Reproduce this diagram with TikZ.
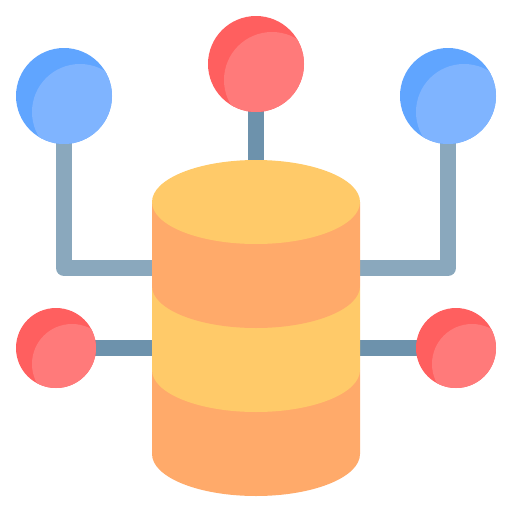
\documentclass[tikz,border=0pt]{standalone}
\usetikzlibrary{backgrounds,shapes.geometric}
\definecolor{redbase}{HTML}{FF5F5F}
\definecolor{redlight}{HTML}{FF7A7A}
\definecolor{bluebase}{HTML}{60A5FF}
\definecolor{bluelight}{HTML}{7FB4FF}
\definecolor{linelight}{HTML}{8AA8BD}
\definecolor{linedark}{HTML}{6D92AC}
\definecolor{dborange}{HTML}{FFAA6A}
\definecolor{dbyellow}{HTML}{FFCA69}
\tikzset{
  x=1pt,y=-1pt,
  ball/.style n args={3}{circle,inner sep=0pt,outer sep=0pt,minimum size=#1*2pt,fill=#2,
    path picture={\fill[#3] ([shift={(16pt,-16pt)}]path picture bounding box.center) circle[radius=#1*1pt];}},
  bigred/.style={ball={48}{redbase}{redlight}},
  bigblue/.style={ball={48}{bluebase}{bluelight}},
  smallred/.style={ball={40}{redbase}{redlight}},
  wire/.style={line width=16pt,line join=round},
  wirelight/.style={wire,draw=linelight},
  wiredark/.style={wire,draw=linedark},
}
\newcommand{\dbband}[2]{\fill[#2] (152,#1) -- (152,#1+84) arc[start angle=180,end angle=360,x radius=104pt,y radius=42pt] -- (360,#1) -- cycle;}
\begin{document}
\begin{tikzpicture}
\useasboundingbox (0,0) rectangle (512,512);
\dbband{370}{dborange}
\dbband{286}{dbyellow}
\dbband{202}{dborange}
\node[ellipse,minimum width=208pt,minimum height=84pt,inner sep=0pt,outer sep=0pt,fill=dbyellow] (top) at (256,202) {};
\coordinate (jl) at (152,268);
\coordinate (jr) at (360,268);
\coordinate (kl) at (152,348);
\coordinate (kr) at (360,348);
\node[bigred] (nt) at (256,64) {};
\node[bigblue] (nl) at (64,96) {};
\node[bigblue] (nr) at (448,96) {};
\node[smallred] (sl) at (56,348) {};
\node[smallred] (sr) at (456,348) {};
\begin{pgfonlayer}{background}
\draw[wiredark] (nt.center) -- (top.center);
\draw[wirelight] (nl.center) |- (jl);
\draw[wirelight] (nr.center) |- (jr);
\draw[wiredark] (sl.center) -- (kl);
\draw[wiredark] (sr.center) -- (kr);
\end{pgfonlayer}
\end{tikzpicture}
\end{document}
